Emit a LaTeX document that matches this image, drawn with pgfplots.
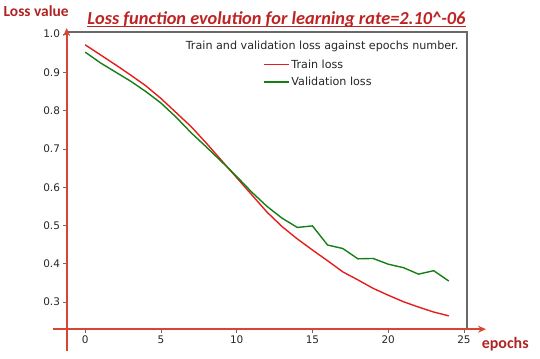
\documentclass[border=0pt]{standalone}
\usepackage{fontspec}
\setmainfont{DejaVu Sans}
\newfontfamily\carlito{Carlito}
\usepackage{pgfplots}
\pgfplotsset{compat=1.18}
\usetikzlibrary{arrows.meta}
\definecolor{ttl}{RGB}{190,35,35}
\definecolor{ttlb}{RGB}{175,35,35}
\definecolor{arr}{RGB}{215,70,50}
\definecolor{fr}{RGB}{105,105,105}
\definecolor{trn}{RGB}{228,30,30}
\definecolor{val}{RGB}{20,128,20}
\begin{document}
\begin{tikzpicture}
\path[use as bounding box] (0,0) rectangle (540bp,359bp);
\begin{axis}[
  at={(67bp,30bp)}, anchor=south west,
  scale only axis, width=400bp, height=297bp,
  xmin=-1.2, xmax=25.2, ymin=0.2297, ymax=1.0055,
  xtick={0,5,10,15,20,25},
  ytick={0.3,0.4,0.5,0.6,0.7,0.8,0.9,1.0},
  y tick label style={/pgf/number format/.cd, fixed, fixed zerofill, precision=1},
  /pgf/number format/assume math mode=true,
  tick label style={font=\fontsize{10.5}{12}\selectfont, text=black!85},
  xtick pos=bottom, ytick pos=left, tick align=outside,
  major tick length=3.5bp,
  tick style={fr, line width=0.8bp},
  axis line style={fr, line width=1.3bp},
  legend style={draw=none, fill=none, at={(0.49,0.913)}, anchor=north west,
    font=\fontsize{11.2}{13}\selectfont, inner sep=0pt, row sep=4.2bp,
    nodes={inner sep=1.5bp, text=black!85},
    /tikz/every even column/.append style={column sep=5bp}},
  legend cell align=left,
  legend image code/.code={\draw[#1] (0bp,0bp) -- (25bp,0bp);},
]
\addlegendimage{trn, line width=1.7bp}
\addlegendentry{Train loss}
\addlegendimage{val, line width=1.7bp}
\addlegendentry{Validation loss}
\addplot[trn, line width=1.4bp, forget plot] coordinates {
(0,0.972) (1,0.946) (2,0.920) (3,0.893) (4,0.865) (5,0.832) (6,0.795)
(7,0.758) (8,0.715) (9,0.670) (10,0.625) (11,0.580) (12,0.535) (13,0.497)
(14,0.465) (15,0.436) (16,0.408) (17,0.379) (18,0.358) (19,0.336) (20,0.318)
(21,0.301) (22,0.287) (23,0.274) (24,0.264)};
\addplot[val, line width=1.4bp, forget plot] coordinates {
(0,0.953) (1,0.925) (2,0.901) (3,0.877) (4,0.850) (5,0.820) (6,0.783)
(7,0.742) (8,0.705) (9,0.667) (10,0.628) (11,0.587) (12,0.550) (13,0.519)
(14,0.495) (15,0.499) (16,0.449) (17,0.440) (18,0.413) (19,0.414) (20,0.399)
(21,0.390) (22,0.373) (23,0.382) (24,0.355)};
\end{axis}
% legend title
\node[anchor=base east, inner sep=0pt, font=\fontsize{11.2}{13}\selectfont, text=black!85] at (458.5bp,309.5bp) {Train and validation loss against epochs number.};
% red axis arrows
\draw[arr, line width=2bp, -{Stealth[length=8bp,width=7bp]}] (66.7bp,7.5bp) -- (66.7bp,331bp);
\draw[arr, line width=2bp, -{Stealth[length=8bp,width=7bp]}] (52.7bp,29.8bp) -- (486bp,29.8bp);
% title
\node (T) [anchor=base, inner sep=0pt, text=ttl, font=\carlito\bfseries\itshape\fontsize{18.4}{21}\selectfont] at (276.5bp,334.8bp) {Loss function evolution for learning rate=2.10\textasciicircum-06};
\draw[ttl, line width=1.3bp] ([yshift=-2.2bp]T.base west) -- ([yshift=-2.2bp]T.base east);
% axis names
\node[anchor=base west, inner sep=0pt, text=ttlb, font=\carlito\bfseries\fontsize{15.5}{17}\selectfont] at (3.5bp,342.7bp) {Loss value};
\node[anchor=base west, inner sep=0pt, text=ttlb, font=\carlito\bfseries\fontsize{16}{18}\selectfont] at (481.7bp,10.7bp) {epochs};
\end{tikzpicture}
\end{document}
